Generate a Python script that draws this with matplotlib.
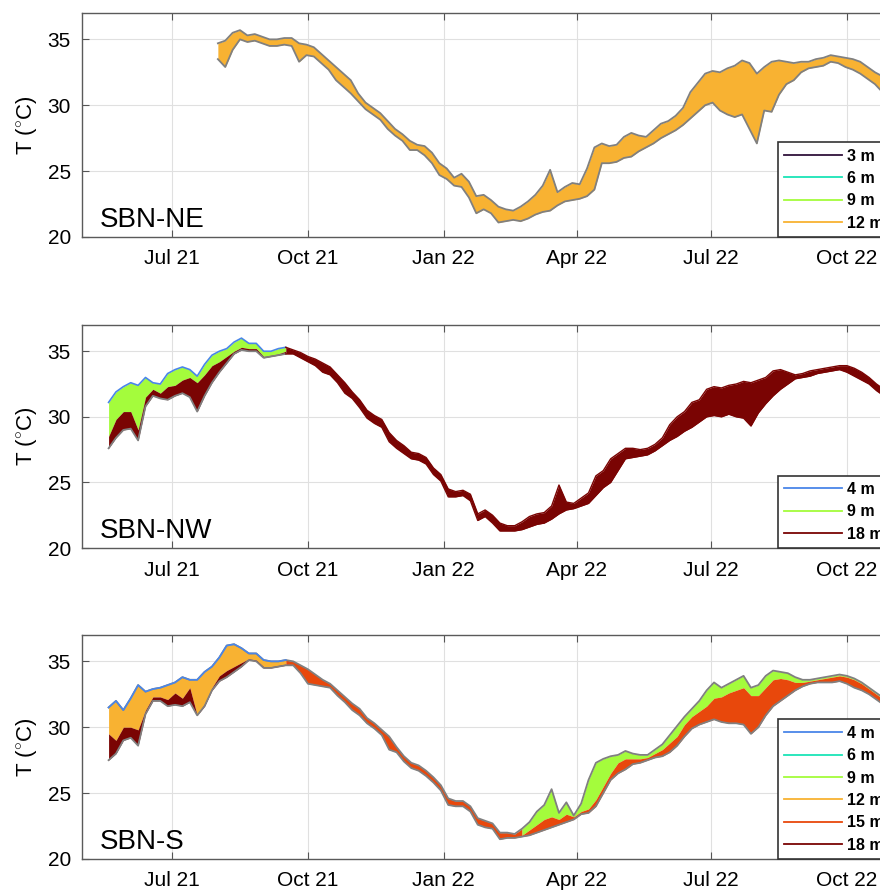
import matplotlib
matplotlib.use('Agg')
import matplotlib.pyplot as plt
import matplotlib.dates as mdates
from matplotlib.lines import Line2D
import numpy as np
import pandas as pd

plt.rcParams['font.family'] = ['Liberation Sans', 'DejaVu Sans']
plt.rcParams['mathtext.fontset'] = 'custom'
plt.rcParams['mathtext.rm'] = 'Liberation Sans'

# colores por profundidad (turbo)
c3 = '#30123b'
c4 = '#4a86e8'
c6 = '#1ae4b6'
c9 = '#a4fc3c'
c12 = '#f8b232'
c15 = '#e8480c'
c18 = '#7a0403'
gris = '#808080'

# ---------------- SBN-NE : datos cada 5 dias desde 2021-08-01
ne_start = '2021-08-01'
ne_top = [34.7, 34.9, 35.5, 35.7, 35.3, 35.4, 35.2, 35.0, 35.0, 35.1,
          35.1, 34.7, 34.6, 34.4, 33.9, 33.4, 32.9, 32.4, 31.9, 30.9,
          30.2, 29.8, 29.4, 28.8, 28.2, 27.8, 27.3, 27.0, 26.9, 26.4,
          25.6, 25.2, 24.5, 24.8, 24.2, 23.1, 23.2, 22.8, 22.3, 22.1,
          22.0, 22.3, 22.7, 23.2, 23.9, 25.1, 23.4, 23.8, 24.1, 24.0,
          25.2, 26.8, 27.1, 26.9, 27.0, 27.6, 27.9, 27.7, 27.6, 28.1,
          28.6, 28.8, 29.2, 29.8, 31.0, 31.7, 32.4, 32.6, 32.5, 32.8,
          33.0, 33.4, 33.2, 32.4, 32.9, 33.3, 33.4, 33.3, 33.2, 33.3,
          33.3, 33.5, 33.6, 33.8, 33.7, 33.6, 33.5, 33.3, 32.9, 32.5,
          32.2, 31.8]
ne_bot = [33.5, 32.9, 34.2, 35.0, 34.8, 34.9, 34.7, 34.5, 34.5, 34.6,
          34.5, 33.3, 33.8, 33.7, 33.2, 32.7, 31.9, 31.4, 30.9, 30.3,
          29.7, 29.3, 28.9, 28.2, 27.7, 27.3, 26.6, 26.6, 26.2, 25.6,
          24.7, 24.4, 23.9, 23.8, 23.0, 21.8, 22.1, 21.8, 21.1, 21.2,
          21.3, 21.2, 21.4, 21.7, 21.9, 22.0, 22.4, 22.7, 22.8, 22.9,
          23.1, 23.6, 25.6, 25.6, 25.7, 26.0, 26.1, 26.5, 26.8, 27.1,
          27.5, 27.8, 28.1, 28.5, 29.0, 29.5, 30.0, 30.2, 29.6, 29.3,
          29.1, 29.3, 28.2, 27.1, 29.6, 29.5, 30.8, 31.6, 31.9, 32.5,
          32.8, 32.9, 33.0, 33.3, 33.2, 32.9, 32.7, 32.4, 32.0, 31.6,
          31.0, 30.6]

# ---------------- SBN-NW : datos cada 5 dias desde 2021-05-19
nw_start = '2021-05-19'
nw_top = [31.1, 31.9, 32.3, 32.6, 32.4, 33.0, 32.6, 32.5, 33.3, 33.6,
          33.8, 33.6, 33.1, 34.0, 34.7, 35.0, 35.2, 35.7, 36.0, 35.6,
          35.6, 35.0, 35.0, 35.2, 35.3, 35.1, 34.9, 34.6, 34.4, 34.1,
          33.8, 33.2, 32.6, 31.9, 31.3, 30.5, 30.1, 29.8, 28.8, 28.2,
          27.8, 27.3, 27.2, 26.9, 26.1, 25.6, 24.5, 24.3, 24.4, 24.1,
          22.6, 22.9, 22.5, 21.9, 21.7, 21.7, 22.0, 22.4, 22.6, 22.7,
          23.2, 24.8, 23.5, 23.4, 23.8, 24.2, 25.5, 25.9, 26.8, 27.2,
          27.6, 27.6, 27.5, 27.6, 27.9, 28.4, 29.4, 30.0, 30.4, 31.1,
          31.3, 32.1, 32.3, 32.2, 32.4, 32.5, 32.7, 32.6, 32.8, 33.0,
          33.5, 33.6, 33.4, 33.2, 33.3, 33.5, 33.6, 33.7, 33.8, 33.9,
          33.9, 33.7, 33.4, 33.0, 32.5, 32.1, 31.8]
# limite 9 m / 18 m (solo 2021, primeros 25 datos)
nw_mid = [28.5, 29.8, 30.4, 30.4, 29.0, 31.5, 32.1, 31.8, 32.3, 32.4,
          32.8, 33.0, 32.6, 33.2, 33.9, 34.2, 34.6, 35.0, 35.3, 35.2,
          35.2, 34.6, 34.7, 34.8, 35.0]
nw_bot = [27.6, 28.4, 29.0, 29.1, 28.2, 30.8, 31.6, 31.4, 31.3, 31.6,
          31.8, 31.5, 30.4, 31.6, 32.6, 33.4, 34.1, 34.8, 35.1, 35.0,
          35.0, 34.5, 34.6, 34.7, 34.8, 34.8, 34.5, 34.2, 33.9, 33.4,
          33.2, 32.6, 31.8, 31.4, 30.7, 29.9, 29.5, 29.2, 28.1, 27.6,
          27.2, 26.8, 26.7, 26.4, 25.6, 25.1, 23.9, 23.9, 24.0, 23.6,
          22.1, 22.4, 21.9, 21.3, 21.3, 21.3, 21.4, 21.6, 21.8, 21.9,
          22.2, 22.6, 22.9, 23.0, 23.2, 23.4, 24.0, 24.6, 25.0, 25.9,
          26.8, 26.9, 27.0, 27.1, 27.4, 27.8, 28.2, 28.5, 28.9, 29.2,
          29.6, 30.0, 30.1, 30.0, 30.2, 30.0, 29.9, 29.3, 30.3, 31.0,
          31.6, 32.1, 32.5, 32.9, 33.0, 33.1, 33.3, 33.4, 33.5, 33.6,
          33.4, 33.1, 32.8, 32.5, 32.0, 31.6, 31.2]

# ---------------- SBN-S : datos cada 5 dias desde 2021-05-19
s_start = '2021-05-19'
s_top = [31.5, 32.0, 31.3, 32.2, 33.2, 32.7, 32.9, 33.0, 33.2, 33.4,
         33.8, 33.6, 33.6, 34.2, 34.6, 35.3, 36.2, 36.3, 36.0, 35.6,
         35.6, 35.1, 35.0, 35.0, 35.1, 35.0, 34.7, 34.4, 34.0, 33.6,
         33.3, 32.8, 32.3, 31.8, 31.4, 30.7, 30.3, 29.8, 29.3, 28.5,
         27.8, 27.3, 27.1, 26.7, 26.2, 25.6, 24.6, 24.4, 24.4, 24.0,
         23.1, 22.9, 22.7, 22.0, 22.0, 21.9, 22.3, 22.8, 23.6, 24.1,
         25.3, 23.5, 24.3, 23.3, 24.2, 26.0, 27.3, 27.6, 27.8, 27.9,
         28.2, 28.0, 27.9, 27.9, 28.3, 28.7, 29.4, 30.1, 30.8, 31.4,
         32.0, 32.8, 33.4, 33.0, 33.3, 33.6, 33.9, 33.0, 33.2, 33.9,
         34.3, 34.2, 34.1, 33.8, 33.6, 33.6, 33.7, 33.8, 33.9, 34.0,
         33.9, 33.7, 33.4, 33.0, 32.6, 32.2, 31.8]
s_bot = [27.5, 28.0, 29.0, 29.2, 28.6, 31.0, 32.0, 32.0, 31.6, 31.7,
         31.6, 31.9, 30.9, 31.6, 32.8, 33.5, 33.8, 34.2, 34.6, 35.1,
         35.0, 34.5, 34.5, 34.6, 34.7, 34.7, 34.1, 33.3, 33.2, 33.1,
         33.0, 32.4, 31.9, 31.3, 30.9, 30.3, 29.9, 29.4, 28.3, 28.1,
         27.4, 26.9, 26.7, 26.3, 25.8, 25.2, 24.1, 24.0, 24.0, 23.6,
         22.6, 22.4, 22.3, 21.5, 21.6, 21.6, 21.7, 21.8, 22.0, 22.2,
         22.4, 22.6, 22.8, 23.0, 23.4, 23.5, 24.0, 25.0, 26.0, 26.5,
         26.8, 27.2, 27.3, 27.5, 27.7, 27.8, 28.1, 28.6, 29.3, 29.9,
         30.2, 30.4, 30.6, 30.4, 30.3, 30.3, 30.2, 29.5, 30.0, 30.9,
         31.6, 32.0, 32.4, 32.8, 33.1, 33.3, 33.4, 33.4, 33.4, 33.5,
         33.3, 33.0, 32.8, 32.5, 32.1, 31.7, 31.3]
# limite 12 m / 18 m en 2021 (primeros 25 datos)
s_mid21 = [29.5, 29.0, 30.0, 30.0, 29.8, 31.3, 32.3, 32.3, 32.1, 32.6,
           32.2, 33.0, 30.9, 31.8, 33.0, 33.9, 34.3, 34.6, 34.9, 35.2,
           35.1, 34.6, 34.6, 34.7, 34.8]
# limite 9 m / 15 m en 2022 (desde el dato 56)
s_mid22 = [21.8, 22.2, 22.6, 23.0, 23.2, 23.0, 23.4, 23.2, 23.6, 23.8,
           24.5, 25.5, 26.5, 27.3, 27.6, 27.6, 27.6, 27.7, 28.0, 28.3,
           28.8, 29.3, 30.2, 30.8, 31.2, 31.6, 32.2, 32.3, 32.6, 32.8,
           33.0, 32.4, 32.4, 33.0, 33.6, 33.7, 33.6, 33.4, 33.4, 33.5,
           33.6, 33.7, 33.8, 33.9, 33.8, 33.6, 33.3, 32.9, 32.5, 32.1,
           31.7]

ne_labels = ['3 m', '6 m', '9 m', '12 m']
ne_colors = [c3, c6, c9, c12]
nw_labels = ['4 m', '9 m', '18 m']
nw_colors = [c4, c9, c18]
s_labels = ['4 m', '6 m', '9 m', '12 m', '15 m', '18 m']
s_colors = [c4, c6, c9, c12, c15, c18]


def fechas(inicio, n):
    return pd.date_range(inicio, periods=n, freq='5D')


def formato(ax, nombre, labels, colors):
    ax.set_xlim(pd.Timestamp('2021-05-01'), pd.Timestamp('2022-11-10'))
    ax.set_ylim(20, 37)
    ax.set_yticks([20, 25, 30, 35])
    ax.xaxis.set_major_locator(mdates.MonthLocator(bymonth=[1, 4, 7, 10]))
    ax.xaxis.set_major_formatter(mdates.DateFormatter('%b %y'))
    ax.tick_params(direction='in', length=5, top=True, right=True,
                   labelsize=15, color='#555555')
    ax.tick_params(axis='y', pad=8)
    ax.tick_params(axis='x', pad=9)
    ax.grid(True, color='#e0e0e0', lw=0.8)
    ax.set_axisbelow(True)
    for s in ax.spines.values():
        s.set_color('#5a5a5a')
        s.set_linewidth(1.0)
    ax.set_ylabel(r'T ($^{\circ}$C)', fontsize=16, labelpad=6)
    ax.text(18 / 824, 10 / 224, nombre, transform=ax.transAxes,
            fontsize=20, va='baseline')
    handles = [Line2D([], [], color=c, lw=1.3, label=l) for l, c in zip(labels, colors)]
    leg = ax.legend(handles=handles, loc='lower left', bbox_to_anchor=(696 / 824, 0),
                    borderaxespad=0, prop={'weight': 'bold', 'size': 11.5},
                    handlelength=3.6, handletextpad=0.35, labelspacing=0.46,
                    borderpad=0.4, fancybox=False, edgecolor='#333333',
                    framealpha=1)
    leg.get_frame().set_linewidth(1.2)


fig = plt.figure(figsize=(8.8, 8.94), dpi=100)
ax1 = fig.add_axes([82 / 880, 657 / 894, 824 / 880, 224 / 894])
ax2 = fig.add_axes([82 / 880, 346 / 894, 824 / 880, 223 / 894])
ax3 = fig.add_axes([82 / 880, 35 / 894, 824 / 880, 224 / 894])

# SBN-NE
t = fechas(ne_start, len(ne_top))
ax1.fill_between(t, ne_top, ne_bot, color=c12, lw=0)
ax1.plot(t, ne_top, color=gris, lw=1.3)
ax1.plot(t, ne_bot, color=gris, lw=1.3)
formato(ax1, 'SBN-NE', ne_labels, ne_colors)

# SBN-NW
t = fechas(nw_start, len(nw_top))
n = len(nw_mid)
ax2.fill_between(t[:n], nw_top[:n], nw_mid, color=c9, lw=0)
ax2.fill_between(t[:n], nw_mid, nw_bot[:n], color=c18, lw=0)
ax2.fill_between(t[n - 1:], nw_top[n - 1:], nw_bot[n - 1:], color=c18, lw=0)
ax2.plot(t[:n], nw_bot[:n], color=gris, lw=1.3)
ax2.plot(t[:n], nw_top[:n], color=c4, lw=1.2)
ax2.plot(t[n - 1:], nw_top[n - 1:], color=c18, lw=1.0)
ax2.plot(t[n - 1:], nw_bot[n - 1:], color=c18, lw=1.0)
formato(ax2, 'SBN-NW', nw_labels, nw_colors)

# SBN-S
t = fechas(s_start, len(s_top))
n1 = len(s_mid21)
n2 = len(s_top) - len(s_mid22)
ax3.fill_between(t[:n1], s_top[:n1], s_mid21, color=c12, lw=0)
ax3.fill_between(t[:n1], s_mid21, s_bot[:n1], color=c18, lw=0)
ax3.fill_between(t[n1 - 1:n2 + 1], s_top[n1 - 1:n2 + 1], s_bot[n1 - 1:n2 + 1], color=c15, lw=0)
ax3.fill_between(t[n2:], s_top[n2:], s_mid22, color=c9, lw=0)
ax3.fill_between(t[n2:], s_mid22, s_bot[n2:], color=c15, lw=0)
ax3.plot(t, s_top, color=gris, lw=1.3)
ax3.plot(t, s_bot, color=gris, lw=1.3)
ax3.plot(t[:n1], s_top[:n1], color=c4, lw=1.2)
formato(ax3, 'SBN-S', s_labels, s_colors)

fig.savefig('out.png', dpi=100)
